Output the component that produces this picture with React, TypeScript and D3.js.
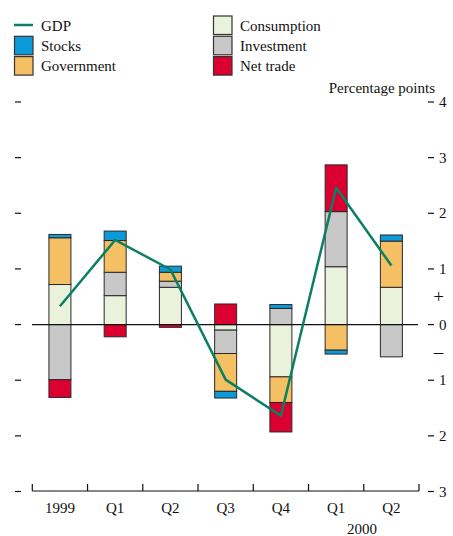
import * as d3 from "d3";

const periods = ["1999", "Q1", "Q2", "Q3", "Q4", "Q1", "Q2"];
const consumption = [0.72, 0.52, 0.67, -0.1, -0.94, 1.04, 0.67];
const investment = [-0.99, 0.42, 0.11, -0.42, 0.29, 0.99, -0.58];
const government = [0.84, 0.57, 0.16, -0.68, -0.46, -0.46, 0.83];
const stocks = [0.06, 0.17, 0.11, -0.12, 0.07, -0.07, 0.11];
const netTrade = [-0.32, -0.22, -0.05, 0.37, -0.53, 0.84, 0];
const gdp = [0.33, 1.52, 0.99, -0.99, -1.64, 2.46, 1.06];
const yTicks = [-3, -2, -1, 0, 1, 2, 3, 4];

const keys = ["consumption", "investment", "government", "stocks", "netTrade"];
const colors: Record<string, string> = {
  consumption: "#eaf2dc",
  investment: "#c8c8c8",
  government: "#f5bf63",
  stocks: "#0d9ad9",
  netTrade: "#dc0031",
};
const gdpColor = "#0a8062";
const font = "'Liberation Serif', 'Times New Roman', serif";

const width = 453;
const height = 536;

export default function App() {
  const rows = periods.map((p, i) => ({
    i,
    consumption: consumption[i],
    investment: investment[i],
    government: government[i],
    stocks: stocks[i],
    netTrade: netTrade[i],
  }));

  const series = d3
    .stack<any>()
    .keys(keys)
    .offset(d3.stackOffsetDiverging)(rows);

  const x = d3
    .scaleBand<number>()
    .domain(periods.map((_, i) => i))
    .range([32.3, 419]);

  const y = d3.scaleLinear().domain([-3, 4]).range([491.5, 102]);

  const barW = 22;
  const cx = (i: number) => (x(i) as number) + x.bandwidth() / 2;

  const line = d3
    .line<number>()
    .x((_, i) => cx(i))
    .y((d) => y(d));

  const legendLeft = [
    { key: "gdp", label: "GDP" },
    { key: "stocks", label: "Stocks" },
    { key: "government", label: "Government" },
  ];
  const legendRight = [
    { key: "consumption", label: "Consumption" },
    { key: "investment", label: "Investment" },
    { key: "netTrade", label: "Net trade" },
  ];

  return (
    <svg
      width={width}
      height={height}
      style={{ position: "absolute", left: 0, top: 0, background: "#fff" }}
      fontFamily={font}
    >
      {/* legend */}
      {legendLeft.map((d, k) => (
        <g key={d.key} transform={`translate(14, ${16 + k * 20.3})`}>
          {d.key === "gdp" ? (
            <line x1={0} x2={19} y1={9} y2={9} stroke={gdpColor} strokeWidth={2.5} />
          ) : (
            <rect x={0.5} y={0} width={18.5} height={18.5} fill={colors[d.key]} stroke="#333" strokeWidth={1.2} />
          )}
          <text x={27} y={14.5} fontSize={15} fill="#111">
            {d.label}
          </text>
        </g>
      ))}
      {legendRight.map((d, k) => (
        <g key={d.key} transform={`translate(213, ${16 + k * 20.3})`}>
          <rect x={0.5} y={0} width={18.5} height={18.5} fill={colors[d.key]} stroke="#333" strokeWidth={1.2} />
          <text x={27} y={14.5} fontSize={15} fill="#111">
            {d.label}
          </text>
        </g>
      ))}

      <text x={435} y={93} fontSize={15} textAnchor="end" fill="#111">
        Percentage points
      </text>

      {/* y ticks, both sides */}
      {yTicks.map((t) => (
        <g key={t}>
          <line x1={15} x2={21} y1={y(t)} y2={y(t)} stroke="#111" strokeWidth={1.2} />
          <line x1={428} x2={434} y1={y(t)} y2={y(t)} stroke="#111" strokeWidth={1.2} />
          <text x={439} y={y(t) + 5} fontSize={15} fill="#111">
            {Math.abs(t)}
          </text>
        </g>
      ))}
      <text x={438.5} y={(y(0) + y(1)) / 2 + 6} fontSize={19} textAnchor="middle" fill="#111">
        +
      </text>
      <text x={438.5} y={(y(0) + y(-1)) / 2 + 6} fontSize={19} textAnchor="middle" fill="#111">
        –
      </text>

      {/* bars */}
      {series.map((s) => (
        <g key={s.key}>
          {s.map((d, i) =>
            d[1] - d[0] === 0 ? null : (
              <rect
                key={i}
                x={cx(i) - barW / 2}
                y={y(d[1])}
                width={barW}
                height={y(d[0]) - y(d[1])}
                fill={colors[s.key]}
                stroke="#2a2a2a"
                strokeWidth={1}
              />
            )
          )}
        </g>
      ))}

      {/* zero line */}
      <line x1={32} x2={418} y1={y(0)} y2={y(0)} stroke="#111" strokeWidth={1.2} />

      {/* GDP */}
      <path d={line(gdp) ?? ""} fill="none" stroke={gdpColor} strokeWidth={2.5} strokeLinejoin="round" />

      {/* x axis */}
      <line x1={32.3} x2={419} y1={491} y2={491} stroke="#111" strokeWidth={1.2} />
      {[...periods.map((_, i) => x(i) as number), 419].map((v, k) => (
        <line key={k} x1={v} x2={v} y1={491} y2={484} stroke="#111" strokeWidth={1.2} />
      ))}
      {periods.map((p, i) => (
        <text key={i} x={cx(i)} y={513} fontSize={15} textAnchor="middle" fill="#111">
          {p}
        </text>
      ))}
      <text x={362} y={534} fontSize={15} textAnchor="middle" fill="#111">
        2000
      </text>
    </svg>
  );
}
